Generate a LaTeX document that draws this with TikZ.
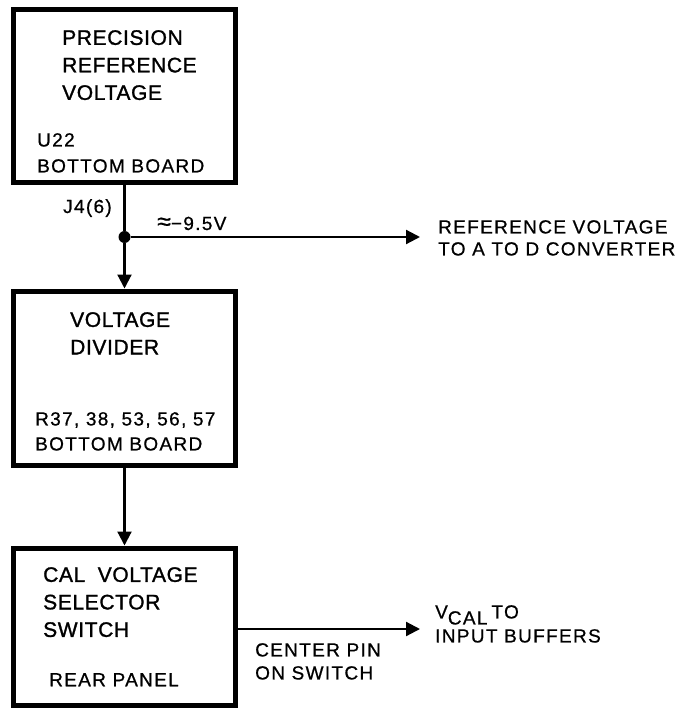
\documentclass[tikz,border=0pt]{standalone}
\usepackage{fontspec}
\setmainfont{Liberation Sans}
\newfontfamily\titlefont[LetterSpace=3,FakeBold=1.3]{Liberation Sans}
\newfontfamily\plainfont[LetterSpace=7,FakeBold=0.7]{Liberation Sans}
\usetikzlibrary{arrows.meta}

\begin{document}
\begin{tikzpicture}[x=1pt, y=-1pt, >={Triangle[length=14pt,width=14pt]},
    box/.style={rectangle, draw=black, line width=5pt, minimum width=222pt},
    wire/.style={line width=2.2pt, draw=black},
    dot/.style={circle, fill=black, inner sep=0pt, minimum size=12pt},
    title/.style={anchor=north west, inner sep=0pt, align=left, font=\titlefont\fontsize{21}{27.5}\selectfont},
    note/.style={anchor=north west, inner sep=0pt, align=left, font=\plainfont\fontsize{19}{25}\selectfont}]

\useasboundingbox (0,0) rectangle (686,708);

% blocks
\node [box, minimum height=173pt] (ref) at (124.5,96.5) {};
\node [box, minimum height=174pt] (div) at (124.5,378) {};
\node [box, minimum height=157pt] (sel) at (124.5,626.5) {};

\node [title] (refname) at (62,30) {PRECISION\\REFERENCE\\VOLTAGE};
\node [note, font=\plainfont\fontsize{19}{26}\selectfont] (refloc) at (37,133) {U22\\BOTTOM BOARD};
\node [title] (divname) at (70,312) {VOLTAGE\\DIVIDER};
\node [note] (divloc) at (35,412) {R37, 38, 53, 56, 57\\BOTTOM BOARD};
\node [title] (selname) at (43,567) {CAL\hspace{6pt} VOLTAGE\\SELECTOR\\SWITCH};
\node [note] (selloc) at (49,673) {REAR PANEL};

% signal path
\node [dot] (tap) at (124.5,237) {};
\coordinate (adc) at (420,237);
\coordinate (buf) at (420,629);

\draw [wire] (ref) -- (tap);
\draw [wire, ->] (tap) -- (div);
\draw [wire, ->] (tap) -- (adc);
\draw [wire, ->] (div) -- (sel);
\draw [wire, ->] (sel.east |- buf) -- (buf);

\node [note, anchor=base west] (pin) at (63,213) {J4(6)};
\node [note, anchor=base west] (volt) at (157,230) {{\fontsize{25}{25}\selectfont ≈}−9.5V};
\node [note, font=\plainfont\fontsize{19}{22}\selectfont] (adcname) at (438,220) {REFERENCE VOLTAGE\\TO A TO D CONVERTER};
\node [note, font=\plainfont\fontsize{19}{23}\selectfont] (pinname) at (255,643) {CENTER PIN\\ON SWITCH};
\node [note, font=\plainfont\fontsize{19}{24}\selectfont] (bufname) at (435,605) {V\raisebox{-6pt}[0pt][0pt]{CAL}\hspace{4pt}TO\\INPUT BUFFERS};

\end{tikzpicture}
\end{document}
